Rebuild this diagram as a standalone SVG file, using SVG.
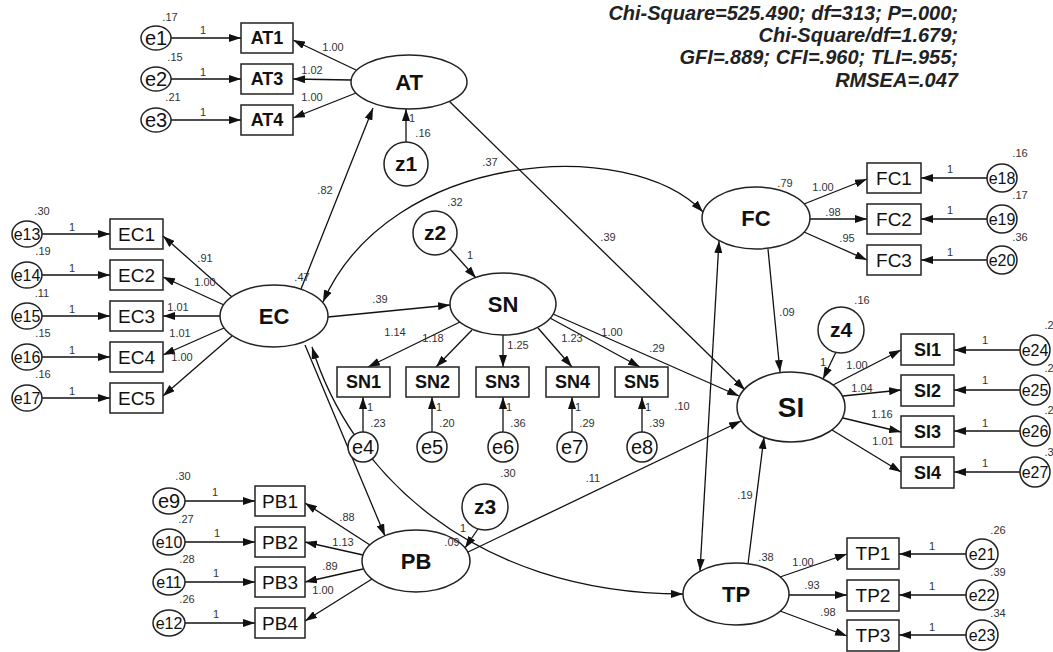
<svg xmlns="http://www.w3.org/2000/svg" width="1053" height="652" viewBox="0 0 1053 652">
<defs>
<marker id="ah" viewBox="0 0 12 8" refX="12" refY="4" markerWidth="12" markerHeight="8" orient="auto-start-reverse" markerUnits="userSpaceOnUse"><path d="M0,0 L12,4 L0,8 z" fill="#111"/></marker>
<style>
.n{fill:#fff;stroke:#222;stroke-width:1.5}
.c{fill:none;stroke:#111;stroke-width:1.3;marker-end:url(#ah)}
.d{marker-start:url(#ah)}
text{font-family:"Liberation Sans",Arial,sans-serif;text-anchor:middle;fill:#111}
.l{font-size:11px;fill:#333}
.lat{font-size:22px;font-weight:bold}
.si{font-size:28px;font-weight:bold}
.ob{font-size:18px;font-weight:bold}
.or{font-size:19px}
.e{font-size:20px}
.e2{font-size:16px}
.z{font-size:21px;font-weight:bold}
.st{font-size:20px;font-weight:bold;font-style:italic;text-anchor:end;fill:#222}
</style>
</defs>
<rect width="1053" height="652" fill="#fff"/>

<g id="fit">
<text class="st" x="958" y="20">Chi-Square=525.490; df=313; P=.000;</text>
<text class="st" x="958" y="42">Chi-Square/df=1.679;</text>
<text class="st" x="958" y="64">GFI=.889; CFI=.960; TLI=.955;</text>
<text class="st" x="958" y="87">RMSEA=.047</text>
</g>

<g id="connectors">
<!-- AT block -->
<line class="c" x1="171" y1="38" x2="241" y2="38"/>
<line class="c" x1="171" y1="79" x2="241" y2="79"/>
<line class="c" x1="171" y1="120" x2="241" y2="120"/>
<line class="c" x1="356" y1="70" x2="293" y2="40"/>
<line class="c" x1="351" y1="80" x2="293" y2="79"/>
<line class="c" x1="356" y1="93" x2="293" y2="118"/>
<line class="c" x1="406" y1="142" x2="406" y2="109"/>
<!-- EC block -->
<line class="c" x1="42" y1="234" x2="110" y2="234"/>
<line class="c" x1="42" y1="275" x2="110" y2="275"/>
<line class="c" x1="42" y1="316" x2="110" y2="316"/>
<line class="c" x1="42" y1="357" x2="110" y2="357"/>
<line class="c" x1="42" y1="398" x2="110" y2="398"/>
<line class="c" x1="232" y1="297" x2="163" y2="236"/>
<line class="c" x1="224" y1="305" x2="163" y2="277"/>
<line class="c" x1="220" y1="316" x2="163" y2="316"/>
<line class="c" x1="224" y1="328" x2="163" y2="355"/>
<line class="c" x1="232" y1="336" x2="163" y2="396"/>
<line class="c" x1="301" y1="289" x2="373" y2="108"/>
<line class="c" x1="328" y1="317" x2="450" y2="305"/>
<line class="c" x1="305" y1="345" x2="385" y2="536"/>
<path class="c d" d="M312,347 C350,470 470,593 683,594"/>
<path class="c d" d="M323,302 C390,150 630,135 703,212"/>
<!-- SN block -->
<line class="c" x1="450" y1="249" x2="476" y2="278"/>
<line class="c" x1="460" y1="322" x2="368" y2="367"/>
<line class="c" x1="472" y1="330" x2="436" y2="367"/>
<line class="c" x1="503" y1="335" x2="503" y2="367"/>
<line class="c" x1="538" y1="328" x2="572" y2="367"/>
<line class="c" x1="550" y1="318" x2="640" y2="367"/>
<line class="c" x1="553" y1="314" x2="739" y2="396"/>
<line class="c" x1="363" y1="432" x2="363" y2="397"/>
<line class="c" x1="432" y1="432" x2="432" y2="397"/>
<line class="c" x1="503" y1="432" x2="503" y2="397"/>
<line class="c" x1="572" y1="432" x2="572" y2="397"/>
<line class="c" x1="642" y1="432" x2="642" y2="397"/>
<!-- structural -->
<line class="c" x1="449" y1="101" x2="745" y2="390"/>
<line class="c" x1="466" y1="553" x2="741" y2="421"/>
<line class="c" x1="748" y1="564" x2="764" y2="437"/>
<line class="c" x1="768" y1="249" x2="780" y2="372"/>
<line class="c d" x1="719" y1="241" x2="700" y2="571"/>
<!-- FC block -->
<line class="c" x1="804" y1="204" x2="867" y2="179"/>
<line class="c" x1="810" y1="219" x2="867" y2="219"/>
<line class="c" x1="804" y1="232" x2="867" y2="260"/>
<line class="c" x1="987" y1="178" x2="921" y2="178"/>
<line class="c" x1="987" y1="219" x2="921" y2="219"/>
<line class="c" x1="987" y1="260" x2="921" y2="260"/>
<!-- SI block -->
<line class="c" x1="836" y1="352" x2="823" y2="379"/>
<line class="c" x1="833" y1="385" x2="901" y2="350"/>
<line class="c" x1="843" y1="396" x2="901" y2="390"/>
<line class="c" x1="843" y1="418" x2="901" y2="432"/>
<line class="c" x1="832" y1="430" x2="901" y2="472"/>
<line class="c" x1="1020" y1="350" x2="954" y2="350"/>
<line class="c" x1="1020" y1="390" x2="954" y2="390"/>
<line class="c" x1="1020" y1="431" x2="954" y2="431"/>
<line class="c" x1="1020" y1="472" x2="954" y2="472"/>
<!-- TP block -->
<line class="c" x1="780" y1="577" x2="847" y2="554"/>
<line class="c" x1="789" y1="595" x2="847" y2="595"/>
<line class="c" x1="780" y1="611" x2="847" y2="636"/>
<line class="c" x1="966" y1="554" x2="899" y2="554"/>
<line class="c" x1="966" y1="595" x2="899" y2="595"/>
<line class="c" x1="966" y1="635" x2="899" y2="635"/>
<!-- PB block -->
<line class="c" x1="478" y1="529" x2="465" y2="548"/>
<line class="c" x1="370" y1="545" x2="305" y2="503"/>
<line class="c" x1="363" y1="555" x2="305" y2="542"/>
<line class="c" x1="363" y1="569" x2="305" y2="582"/>
<line class="c" x1="372" y1="579" x2="305" y2="621"/>
<line class="c" x1="185" y1="501" x2="255" y2="501"/>
<line class="c" x1="185" y1="542" x2="255" y2="542"/>
<line class="c" x1="185" y1="582" x2="255" y2="582"/>
<line class="c" x1="185" y1="623" x2="255" y2="623"/>
</g>

<g id="AT"><ellipse class="n" cx="409" cy="82" rx="58" ry="27"/><text class="lat" x="409" y="90">AT</text></g>
<g id="AT1"><rect class="n" x="241" y="23" width="52" height="30"/><text class="ob" x="267" y="44">AT1</text></g>
<g id="AT3"><rect class="n" x="241" y="64" width="52" height="30"/><text class="ob" x="267" y="85">AT3</text></g>
<g id="AT4"><rect class="n" x="241" y="105" width="52" height="30"/><text class="ob" x="267" y="126">AT4</text></g>
<g id="e1"><ellipse class="n" cx="156" cy="38" rx="15" ry="12"/><text class="e" x="156" y="45">e1</text></g>
<g id="e2"><ellipse class="n" cx="156" cy="79" rx="15" ry="12"/><text class="e" x="156" y="86">e2</text></g>
<g id="e3"><ellipse class="n" cx="156" cy="120" rx="15" ry="12"/><text class="e" x="156" y="127">e3</text></g>
<g id="z1"><circle class="n" cx="406" cy="164" r="22"/><text class="z" x="406" y="171">z1</text></g>

<g id="EC"><ellipse class="n" cx="274" cy="316" rx="54" ry="31"/><text class="lat" x="274" y="324">EC</text></g>
<g id="EC1"><rect class="n" x="110" y="219" width="53" height="30"/><text class="or" x="136.5" y="241">EC1</text></g>
<g id="EC2"><rect class="n" x="110" y="260" width="53" height="30"/><text class="or" x="136.5" y="282">EC2</text></g>
<g id="EC3"><rect class="n" x="110" y="301" width="53" height="30"/><text class="or" x="136.5" y="323">EC3</text></g>
<g id="EC4"><rect class="n" x="110" y="342" width="53" height="30"/><text class="or" x="136.5" y="364">EC4</text></g>
<g id="EC5"><rect class="n" x="110" y="383" width="53" height="30"/><text class="or" x="136.5" y="405">EC5</text></g>
<g id="e13"><ellipse class="n" cx="27" cy="234" rx="15" ry="13"/><text class="e2" x="27" y="240">e13</text></g>
<g id="e14"><ellipse class="n" cx="27" cy="275" rx="15" ry="13"/><text class="e2" x="27" y="281">e14</text></g>
<g id="e15"><ellipse class="n" cx="27" cy="316" rx="15" ry="13"/><text class="e2" x="27" y="322">e15</text></g>
<g id="e16"><ellipse class="n" cx="27" cy="357" rx="15" ry="13"/><text class="e2" x="27" y="363">e16</text></g>
<g id="e17"><ellipse class="n" cx="27" cy="398" rx="15" ry="13"/><text class="e2" x="27" y="404">e17</text></g>

<g id="SN"><ellipse class="n" cx="503" cy="304" rx="53" ry="31"/><text class="lat" x="503" y="312">SN</text></g>
<g id="z2"><circle class="n" cx="435" cy="233" r="22"/><text class="z" x="435" y="240">z2</text></g>
<g id="SN1"><rect class="n" x="337" y="367" width="53" height="30"/><text class="ob" x="363.5" y="388">SN1</text></g>
<g id="SN2"><rect class="n" x="406" y="367" width="53" height="30"/><text class="ob" x="432.5" y="388">SN2</text></g>
<g id="SN3"><rect class="n" x="476" y="367" width="53" height="30"/><text class="ob" x="502.5" y="388">SN3</text></g>
<g id="SN4"><rect class="n" x="546" y="367" width="53" height="30"/><text class="ob" x="572.5" y="388">SN4</text></g>
<g id="SN5"><rect class="n" x="615" y="367" width="53" height="30"/><text class="ob" x="641.5" y="388">SN5</text></g>
<g id="e4"><circle class="n" cx="363" cy="447" r="15"/><text class="e" x="363" y="454">e4</text></g>
<g id="e5"><circle class="n" cx="432" cy="447" r="15"/><text class="e" x="432" y="454">e5</text></g>
<g id="e6"><circle class="n" cx="503" cy="447" r="15"/><text class="e" x="503" y="454">e6</text></g>
<g id="e7"><circle class="n" cx="572" cy="447" r="15"/><text class="e" x="572" y="454">e7</text></g>
<g id="e8"><circle class="n" cx="642" cy="447" r="15"/><text class="e" x="642" y="454">e8</text></g>

<g id="PB"><ellipse class="n" cx="416" cy="561" rx="54" ry="31"/><text class="lat" x="416" y="569">PB</text></g>
<g id="z3"><circle class="n" cx="485" cy="507" r="23"/><text class="z" x="485" y="514">z3</text></g>
<g id="PB1"><rect class="n" x="255" y="486" width="50" height="30"/><text class="or" x="280" y="508">PB1</text></g>
<g id="PB2"><rect class="n" x="255" y="527" width="50" height="30"/><text class="or" x="280" y="549">PB2</text></g>
<g id="PB3"><rect class="n" x="255" y="567" width="50" height="30"/><text class="or" x="280" y="589">PB3</text></g>
<g id="PB4"><rect class="n" x="255" y="608" width="50" height="30"/><text class="or" x="280" y="630">PB4</text></g>
<g id="e9"><ellipse class="n" cx="169" cy="501" rx="16" ry="13"/><text class="e" x="169" y="508">e9</text></g>
<g id="e10"><ellipse class="n" cx="169" cy="542" rx="16" ry="13"/><text class="e2" x="169" y="548">e10</text></g>
<g id="e11"><ellipse class="n" cx="169" cy="582" rx="16" ry="13"/><text class="e2" x="169" y="588">e11</text></g>
<g id="e12"><ellipse class="n" cx="169" cy="623" rx="16" ry="13"/><text class="e2" x="169" y="629">e12</text></g>

<g id="FC"><ellipse class="n" cx="756" cy="218" rx="54" ry="31"/><text class="lat" x="756" y="226">FC</text></g>
<g id="FC1"><rect class="n" x="867" y="163" width="54" height="30"/><text class="or" x="894" y="185">FC1</text></g>
<g id="FC2"><rect class="n" x="867" y="204" width="54" height="30"/><text class="or" x="894" y="226">FC2</text></g>
<g id="FC3"><rect class="n" x="867" y="245" width="54" height="30"/><text class="or" x="894" y="267">FC3</text></g>
<g id="e18"><ellipse class="n" cx="1002" cy="178" rx="15" ry="14"/><text class="e2" x="1002" y="184">e18</text></g>
<g id="e19"><ellipse class="n" cx="1002" cy="219" rx="15" ry="14"/><text class="e2" x="1002" y="225">e19</text></g>
<g id="e20"><ellipse class="n" cx="1002" cy="260" rx="15" ry="14"/><text class="e2" x="1002" y="266">e20</text></g>

<g id="SI"><ellipse class="n" cx="791" cy="407" rx="54" ry="35"/><text class="si" x="791" y="417">SI</text></g>
<g id="z4"><circle class="n" cx="841" cy="330" r="23"/><text class="z" x="841" y="337">z4</text></g>
<g id="SI1"><rect class="n" x="901" y="334" width="53" height="31"/><text class="ob" x="927.5" y="356">SI1</text></g>
<g id="SI2"><rect class="n" x="901" y="375" width="53" height="31"/><text class="ob" x="927.5" y="397">SI2</text></g>
<g id="SI3"><rect class="n" x="901" y="416" width="53" height="31"/><text class="ob" x="927.5" y="438">SI3</text></g>
<g id="SI4"><rect class="n" x="901" y="457" width="53" height="31"/><text class="ob" x="927.5" y="479">SI4</text></g>
<g id="e24"><ellipse class="n" cx="1035" cy="350" rx="15" ry="15"/><text class="e2" x="1035" y="356">e24</text></g>
<g id="e25"><ellipse class="n" cx="1035" cy="390" rx="15" ry="15"/><text class="e2" x="1035" y="396">e25</text></g>
<g id="e26"><ellipse class="n" cx="1035" cy="431" rx="15" ry="15"/><text class="e2" x="1035" y="437">e26</text></g>
<g id="e27"><ellipse class="n" cx="1035" cy="472" rx="15" ry="15"/><text class="e2" x="1035" y="478">e27</text></g>

<g id="TP"><ellipse class="n" cx="736" cy="594" rx="53" ry="31"/><text class="lat" x="736" y="602">TP</text></g>
<g id="TP1"><rect class="n" x="847" y="538" width="52" height="31"/><text class="or" x="873" y="560">TP1</text></g>
<g id="TP2"><rect class="n" x="847" y="580" width="52" height="31"/><text class="or" x="873" y="602">TP2</text></g>
<g id="TP3"><rect class="n" x="847" y="620" width="52" height="31"/><text class="or" x="873" y="642">TP3</text></g>
<g id="e21"><ellipse class="n" cx="982" cy="554" rx="16" ry="15"/><text class="e2" x="982" y="560">e21</text></g>
<g id="e22"><ellipse class="n" cx="982" cy="595" rx="16" ry="15"/><text class="e2" x="982" y="601">e22</text></g>
<g id="e23"><ellipse class="n" cx="982" cy="635" rx="16" ry="15"/><text class="e2" x="982" y="641">e23</text></g>

<g id="labels" class="l">
<text class="l" x="170" y="21">.17</text><text class="l" x="203" y="34">1</text>
<text class="l" x="175" y="61">.15</text><text class="l" x="203" y="76">1</text>
<text class="l" x="173" y="101">.21</text><text class="l" x="203" y="116">1</text>
<text class="l" x="333" y="51">1.00</text><text class="l" x="312" y="74">1.02</text><text class="l" x="312" y="101">1.00</text>
<text class="l" x="412" y="122">1</text><text class="l" x="423" y="137">.16</text>
<text class="l" x="325" y="194">.82</text><text class="l" x="302" y="281">.47</text>
<text class="l" x="42" y="215">.30</text><text class="l" x="72" y="231">1</text>
<text class="l" x="43" y="255">.19</text><text class="l" x="72" y="272">1</text>
<text class="l" x="42" y="297">.11</text><text class="l" x="72" y="313">1</text>
<text class="l" x="43" y="337">.15</text><text class="l" x="72" y="354">1</text>
<text class="l" x="43" y="378">.16</text><text class="l" x="72" y="395">1</text>
<text class="l" x="205" y="262">.91</text><text class="l" x="205" y="286">1.00</text>
<text class="l" x="178" y="311">1.01</text><text class="l" x="180" y="337">1.01</text><text class="l" x="182" y="361">1.00</text>
<text class="l" x="490" y="166">.37</text><text class="l" x="455" y="206">.32</text><text class="l" x="470" y="259">1</text>
<text class="l" x="380" y="303">.39</text><text class="l" x="608" y="241">.39</text>
<text class="l" x="395" y="336">1.14</text><text class="l" x="433" y="342">1.18</text><text class="l" x="518" y="349">1.25</text>
<text class="l" x="572" y="342">1.23</text><text class="l" x="612" y="336">1.00</text><text class="l" x="657" y="352">.29</text>
<text class="l" x="682" y="410">.10</text>
<text class="l" x="370" y="411">1</text><text class="l" x="378" y="427">.23</text>
<text class="l" x="439" y="411">1</text><text class="l" x="447" y="427">.20</text>
<text class="l" x="509" y="411">1</text><text class="l" x="518" y="427">.36</text>
<text class="l" x="578" y="411">1</text><text class="l" x="587" y="427">.29</text>
<text class="l" x="648" y="411">1</text><text class="l" x="657" y="427">.39</text>
<text class="l" x="183" y="480">.30</text><text class="l" x="215" y="496">1</text>
<text class="l" x="186" y="523">.27</text><text class="l" x="217" y="537">1</text>
<text class="l" x="187" y="563">.28</text><text class="l" x="216" y="577">1</text>
<text class="l" x="187" y="603">.26</text><text class="l" x="216" y="618">1</text>
<text class="l" x="347" y="521">.88</text><text class="l" x="343" y="546">1.13</text>
<text class="l" x="330" y="570">.89</text><text class="l" x="323" y="594">1.00</text>
<text class="l" x="508" y="477">.30</text><text class="l" x="463" y="532">1</text><text class="l" x="452" y="546">.09</text>
<text class="l" x="593" y="482">.11</text>
<text class="l" x="1020" y="157">.16</text><text class="l" x="950" y="173">1</text>
<text class="l" x="1020" y="199">.17</text><text class="l" x="950" y="214">1</text>
<text class="l" x="1020" y="241">.36</text><text class="l" x="950" y="256">1</text>
<text class="l" x="823" y="191">1.00</text><text class="l" x="833" y="216">.98</text><text class="l" x="847" y="242">.95</text>
<text class="l" x="785" y="187">.79</text><text class="l" x="787" y="316">.09</text>
<text class="l" x="862" y="304">.16</text><text class="l" x="823" y="366">1</text>
<text class="l" x="857" y="369">1.00</text><text class="l" x="862" y="392">1.04</text>
<text class="l" x="882" y="418">1.16</text><text class="l" x="883" y="445">1.01</text>
<text class="l" x="985" y="344">1</text><text class="l" x="985" y="384">1</text>
<text class="l" x="985" y="427">1</text><text class="l" x="985" y="467">1</text>
<text class="l" x="1049" y="329">.2</text><text class="l" x="1049" y="372">.2</text>
<text class="l" x="1049" y="414">.2</text><text class="l" x="1049" y="456">.3</text>
<text class="l" x="998" y="534">.26</text><text class="l" x="932" y="550">1</text>
<text class="l" x="998" y="576">.39</text><text class="l" x="932" y="590">1</text>
<text class="l" x="998" y="617">.34</text><text class="l" x="932" y="631">1</text>
<text class="l" x="803" y="566">1.00</text><text class="l" x="812" y="589">.93</text><text class="l" x="828" y="616">.98</text>
<text class="l" x="766" y="561">.38</text><text class="l" x="745" y="499">.19</text>
</g>
</svg>
